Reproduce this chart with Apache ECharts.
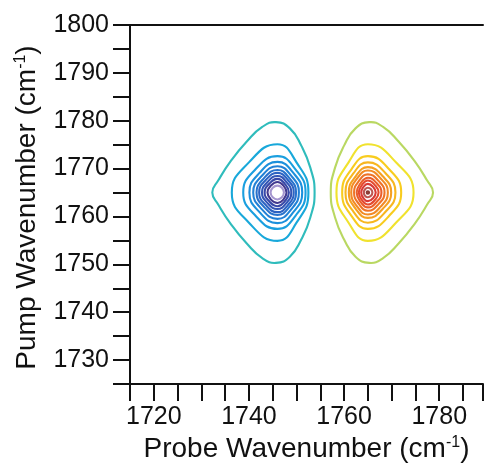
<!DOCTYPE html>
<html><head><meta charset="utf-8">
<script src="https://cdn.jsdelivr.net/npm/echarts@6/dist/echarts.min.js"></script>
<style>html,body{margin:0;padding:0;background:#fff}#c{width:486px;height:468px}</style>
</head><body><div id="c"></div>
<script>
// Axis ranges / ticks
const xRange = [1715, 1789.2];
const yRange = [1725, 1800];
const tickStep = 5;
const xLabelStep = 20;
const yLabelStep = 10;

// Negative (bleach) peak contours, outer -> inner, [probe, pump]
const blueContours = [
  [[1745.7,1779.7],[1748.6,1778.4],[1751.0,1774.8],[1752.9,1770.2],[1753.8,1765.0],[1752.9,1759.8],[1751.0,1755.2],[1748.6,1751.6],[1745.7,1750.3],[1742.8,1751.3],[1739.5,1754.4],[1736.2,1758.4],[1733.6,1762.4],[1732.3,1765.0],[1733.6,1767.6],[1736.2,1771.6],[1739.5,1775.6],[1742.8,1778.7]],
  [[1746,1775.1],[1750.0,1771.3],[1752.5,1765],[1750.0,1758.7],[1746,1754.9],[1740.0,1758.7],[1736.4,1765],[1740.0,1771.3]],
  [[1746,1772.6],[1749.78,1769.86],[1751.9,1765],[1749.78,1760.14],[1746,1757.4],[1741.39,1760.14],[1738.8,1765],[1741.39,1769.86]],
  [[1746,1771.4],[1749.33,1769.1],[1751.2,1765],[1749.33,1760.9],[1746,1758.6],[1742.22,1760.9],[1740.1,1765],[1742.22,1769.1]],
  [[1746,1770.5],[1748.88,1768.52],[1750.5,1765],[1748.88,1761.48],[1746,1759.5],[1742.74,1761.48],[1740.9,1765],[1742.74,1768.52]],
  [[1746,1769.7],[1748.5,1768.01],[1749.9,1765],[1748.5,1761.99],[1746,1760.3],[1743.18,1761.99],[1741.6,1765],[1743.18,1768.01]],
  [[1746,1769.1],[1748.19,1767.62],[1749.42,1765],[1748.19,1762.38],[1746,1760.9],[1743.54,1762.38],[1742.15,1765],[1743.54,1767.62]],
  [[1746,1768.45],[1747.86,1767.21],[1748.9,1765],[1747.86,1762.79],[1746,1761.55],[1743.92,1762.79],[1742.75,1765],[1743.92,1767.21]],
  [[1746,1767.85],[1747.54,1766.82],[1748.4,1765],[1747.54,1763.18],[1746,1762.15],[1744.27,1763.18],[1743.3,1765],[1744.27,1766.82]],
  [[1746,1767.2],[1747.25,1766.45],[1747.9,1765],[1747.25,1763.55],[1746,1762.8],[1744.61,1763.55],[1743.9,1765],[1744.61,1766.45]],
  [[1746,1766.45],[1746.93,1766.0],[1747.35,1765],[1746.93,1764.0],[1746,1763.55],[1745.0,1764.0],[1744.55,1765],[1745.0,1766.0]]
];
const blueColors = ['#2fbcbc','#18a8da','#1a9fdf','#1c90dc','#2281d6','#2872cc','#2d63c2','#3355b5','#3848a7','#42398f','#a596cf'];

// Positive (excited-state) peak contours, outer -> inner
const redContours = [
  [[1765.3,1779.7],[1762.4,1778.4],[1760.0,1774.8],[1758.1,1770.2],[1757.2,1765.0],[1758.1,1759.8],[1760.0,1755.2],[1762.4,1751.6],[1765.3,1750.3],[1768.2,1751.3],[1771.5,1754.4],[1774.8,1758.4],[1777.4,1762.4],[1778.7,1765.0],[1777.4,1767.6],[1774.8,1771.6],[1771.5,1775.6],[1768.2,1778.7]],
  [[1765,1775.1],[1760.91,1771.26],[1758.4,1765],[1760.91,1758.74],[1765,1754.9],[1770.95,1758.74],[1774.6,1765],[1770.95,1771.26]],
  [[1765,1772.6],[1761.54,1769.86],[1759.6,1765],[1761.54,1760.14],[1765,1757.4],[1769.48,1760.14],[1772,1765],[1769.48,1769.86]],
  [[1765,1771.3],[1761.99,1769.03],[1760.3,1765],[1761.99,1760.97],[1765,1758.7],[1768.71,1760.97],[1770.8,1765],[1768.71,1769.03]],
  [[1765,1770.3],[1762.44,1768.39],[1761,1765],[1762.44,1761.61],[1765,1759.7],[1768.14,1761.61],[1769.9,1765],[1768.14,1768.39]],
  [[1765,1769.6],[1762.76,1767.94],[1761.5,1765],[1762.76,1762.06],[1765,1760.4],[1767.69,1762.06],[1769.2,1765],[1767.69,1767.94]],
  [[1765,1768.8],[1763.14,1767.43],[1762.1,1765],[1763.14,1762.57],[1765,1761.2],[1767.24,1762.57],[1768.5,1765],[1767.24,1767.43]],
  [[1765,1768.1],[1763.5,1766.98],[1762.65,1765],[1763.5,1763.02],[1765,1761.9],[1766.82,1763.02],[1767.85,1765],[1766.82,1766.98]],
  [[1765,1767.5],[1763.78,1766.6],[1763.1,1765],[1763.78,1763.4],[1765,1762.5],[1766.44,1763.4],[1767.25,1765],[1766.44,1766.6]],
  [[1765,1766.8],[1764.08,1766.19],[1763.6,1765],[1764.08,1763.81],[1765,1763.2],[1766.09,1763.81],[1766.65,1765],[1766.09,1766.19]],
  [[1765,1766],[1764.41,1765.69],[1764.15,1765],[1764.41,1764.31],[1765,1764],[1765.66,1764.31],[1765.95,1765],[1765.66,1765.69]],
  [[1765,1765.25],[1765.25,1765],[1765,1764.75],[1764.75,1765]]
];
const redColors = ['#b9d862','#f0e22e','#f8cc1e','#f7b620','#f5a022','#f28a25','#ee7327','#ea5e2a','#e4492e','#d93a35','#bd5752','#8b3a34'];

const FONT = "'Liberation Sans', Arial, sans-serif";
const INK = '#111';

function contourSeries(name, contours, colors) {
  return {
    type: 'custom',
    name: name,
    coordinateSystem: 'cartesian2d',
    data: contours.map((c, i) => [c[0][0], c[0][1], i]),
    encode: { x: 0, y: 1 },
    clip: true,
    renderItem: function (params, api) {
      const idx = api.value(2);
      const pts = contours[idx].map(p => api.coord(p));
      return {
        type: 'polygon',
        shape: { points: pts, smooth: 0.5 },
        style: { fill: 'none', stroke: colors[idx], lineWidth: 2.1 }
      };
    }
  };
}

const nameRich = {
  t: { fontSize: 28, fontFamily: FONT, color: INK },
  s: { fontSize: 16, fontFamily: FONT, color: INK, verticalAlign: 'top' }
};

const chart = echarts.init(document.getElementById('c'), null, { renderer: 'canvas' });
chart.setOption({
  animation: false,
  backgroundColor: '#fff',
  grid: { left: 130, top: 25, right: 0, bottom: 84, containLabel: false },
  xAxis: [{
    type: 'value', min: xRange[0], max: xRange[1], interval: tickStep,
    position: 'bottom',
    name: '{t|Probe Wavenumber (cm}{s|-1}{t|)}',
    nameLocation: 'middle', nameGap: 49,
    nameTextStyle: { rich: nameRich },
    axisLine: { show: true, onZero: false, lineStyle: { color: INK, width: 2 } },
    axisTick: { show: true, length: 17, lineStyle: { color: INK, width: 2 } },
    axisLabel: { show: true, interval: 0, margin: 21, fontSize: 25, fontFamily: FONT, color: INK,
      formatter: v => (Math.round(v) % xLabelStep === 0 ? String(Math.round(v)) : '') },
    splitLine: { show: false }
  }, {
    type: 'value', min: xRange[0], max: xRange[1], position: 'top',
    axisLine: { show: true, onZero: false, lineStyle: { color: INK, width: 2 } },
    axisTick: { show: false }, axisLabel: { show: false }, splitLine: { show: false }
  }],
  yAxis: {
    type: 'value', min: yRange[0], max: yRange[1], interval: tickStep,
    name: '{t|Pump Wavenumber (cm}{s|-1}{t|)}',
    nameLocation: 'middle', nameGap: 89,
    nameTextStyle: { rich: nameRich, padding: [0, 6, 0, 0] },
    axisLine: { show: true, onZero: false, lineStyle: { color: INK, width: 2 } },
    axisTick: { show: true, length: 17, lineStyle: { color: INK, width: 2 } },
    axisLabel: { show: true, interval: 0, margin: 21, fontSize: 25, fontFamily: FONT, color: INK,
      formatter: v => (Math.round(v) % yLabelStep === 0 ? String(Math.round(v)) : '') },
    splitLine: { show: false }
  },
  series: [
    contourSeries('bleach', blueContours, blueColors),
    contourSeries('esa', redContours, redColors)
  ]
});
</script></body></html>
